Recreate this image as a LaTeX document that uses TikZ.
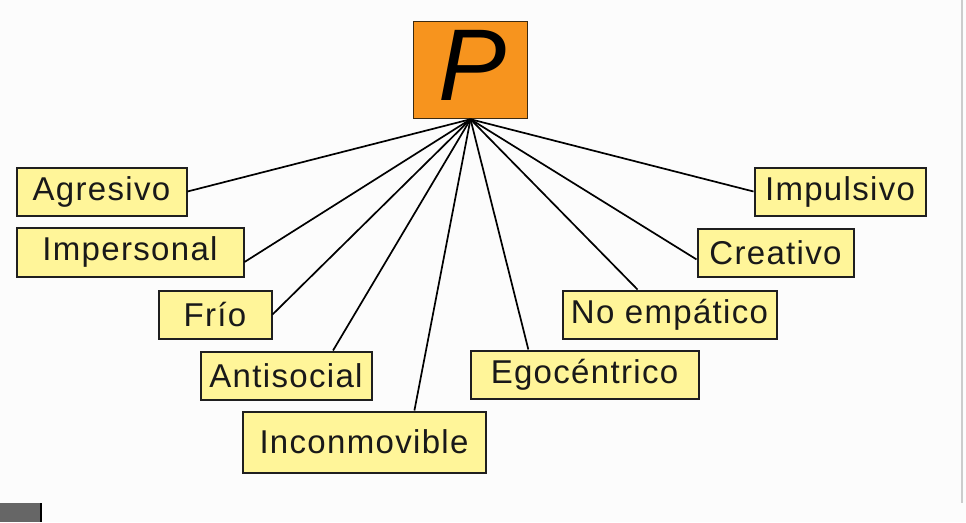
\documentclass[tikz,border=0pt]{standalone}
\usepackage{fontspec}
\setmainfont{Liberation Sans}
\newfontfamily\boxfont[LetterSpace=4]{Liberation Sans}
\definecolor{boxyellow}{HTML}{FFF599}
\definecolor{porange}{HTML}{F7941E}
\definecolor{pborder}{HTML}{3A2A12}
\begin{document}
\begin{tikzpicture}[x=1pt,y=-1pt,
  lbl/.style={draw=black!88,line width=2pt,fill=boxyellow,inner sep=0pt,
    font=\boxfont\fontsize{33}{33}\selectfont,text=black!90},
  conn/.style={draw=black,line width=1.7pt}]
\useasboundingbox (0,0) rectangle (966,522);
\fill[white!99!black] (0,0) rectangle (966,522);
% screen artefacts
\fill[black!60] (0,503) rectangle (40,522);
\draw[black,line width=1.5pt] (41,503) -- (41,522);
\draw[black!20,line width=1.5pt] (962,0) -- (962,503);
% central node
\node[draw=pborder,line width=1.5pt,fill=porange,minimum width=114pt,minimum height=97pt,inner sep=0pt]
  (P) at (470.5,70) {};
\node at (473,65) {\fontsize{102}{102}\selectfont\itshape P};
% boxes
\node[lbl,minimum width=170pt,minimum height=48pt] (agr) at (101.5,191.5) {Agresivo};
\node[lbl,minimum width=227pt,minimum height=49pt] (imp) at (130,252) {Impersonal};
\node[lbl,minimum width=113pt,minimum height=48pt] (fri) at (215,314.5) {Frío};
\node[lbl,minimum width=171pt,minimum height=48pt] (ant) at (286,375.5) {Antisocial};
\node[lbl,minimum width=243pt,minimum height=61pt] (inc) at (364,442) {Inconmovible};
\node[lbl,minimum width=228pt,minimum height=48pt] (ego) at (584.5,374.5) {Egocéntrico};
\node[lbl,minimum width=214pt,minimum height=48pt] (noe) at (669.5,314.5) {No empático};
\node[lbl,minimum width=156pt,minimum height=48pt] (cre) at (775.5,252.5) {Creativo};
\node[lbl,minimum width=171pt,minimum height=48pt] (ipu) at (840,191.5) {Impulsivo};
% connectors
\draw[conn] (P.south) -- (agr.east);
\draw[conn] (P.south) -- (imp.-5);
\draw[conn] (P.south) -- (fri.east);
\draw[conn] (P.south) -- (ant.28);
\draw[conn] (P.south) -- (inc.32);
\draw[conn] (P.south) -- (ego.156.5);
\draw[conn] (P.south) -- (noe.142);
\draw[conn] (P.south) -- (cre.185.5);
\draw[conn] (P.south) -- (ipu.west);
\end{tikzpicture}
\end{document}
